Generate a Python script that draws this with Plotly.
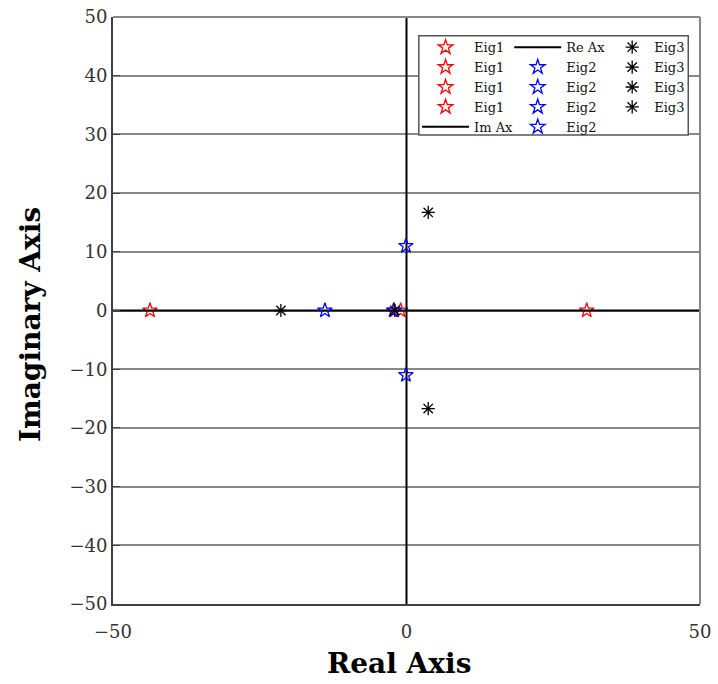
import plotly.graph_objects as go

# Eigenvalues (real, imag)
eig1_re = [-43.7, 30.7, -1.0, -2.2]
eig1_im = [0.0, 0.0, 0.0, 0.0]
eig2_re = [-13.9, -0.1, -0.1, -2.1]
eig2_im = [0.0, 11.0, -11.0, 0.0]
eig3_re = [-21.4, 3.7, 3.7, -2.0]
eig3_im = [0.0, 16.7, -16.7, 0.0]

x_range = [-50, 50]
y_range = [-50, 50]
x_ticks = [-50, 0, 50]
y_ticks = [-50, -40, -30, -20, -10, 0, 10, 20, 30, 40, 50]

FONT = "DejaVu Serif"
fig = go.Figure()

star_size = 11
for xr, yi in zip(eig1_re, eig1_im):
    fig.add_trace(go.Scatter(x=[xr], y=[yi], mode="markers", name="Eig1", legend="legend",
                             marker=dict(symbol="star-open", size=star_size, color="red",
                                         line=dict(width=1.3, color="red"))))
# Im axis (vertical line)
fig.add_trace(go.Scatter(x=[0, 0], y=y_range, mode="lines", name="Im Ax", legend="legend",
                         line=dict(color="black", width=2)))
# Re axis (horizontal line)
fig.add_trace(go.Scatter(x=x_range, y=[0, 0], mode="lines", name="Re Ax", legend="legend2",
                         line=dict(color="black", width=2)))
for xr, yi in zip(eig2_re, eig2_im):
    fig.add_trace(go.Scatter(x=[xr], y=[yi], mode="markers", name="Eig2", legend="legend2",
                             marker=dict(symbol="star-open", size=star_size, color="blue",
                                         line=dict(width=1.3, color="blue"))))
for xr, yi in zip(eig3_re, eig3_im):
    fig.add_trace(go.Scatter(x=[xr], y=[yi], mode="markers", name="Eig3", legend="legend3",
                             marker=dict(symbol="asterisk-open", size=star_size, color="black",
                                         line=dict(width=1.3, color="black"))))

leg_common = dict(yanchor="top", xanchor="left", bgcolor="rgba(0,0,0,0)",
                  borderwidth=0, font=dict(family=FONT, size=13, color="#111"),
                  tracegroupgap=0)
fig.update_layout(
    width=718, height=684,
    margin=dict(l=113, r=18, t=17, b=80, autoexpand=False),
    plot_bgcolor="white", paper_bgcolor="white",
    showlegend=True,
    legend=dict(x=0.518, y=0.974, itemwidth=47, **leg_common),
    legend2=dict(x=0.675, y=0.974, itemwidth=47, **leg_common),
    legend3=dict(x=0.847, y=0.974, itemwidth=34, **leg_common),
    xaxis=dict(range=x_range, tickvals=x_ticks, showgrid=False, zeroline=False, automargin=False,
               showline=True, linecolor="#404040", linewidth=2, ticks="",
               ticklabelstandoff=10,
               tickfont=dict(family=FONT, size=18, color="#333")),
    yaxis=dict(range=y_range, tickvals=y_ticks, showgrid=True, gridcolor="#888", gridwidth=1.5,
               zeroline=False, showline=True, linecolor="#404040", linewidth=2, automargin=False,
               ticks="inside", ticklen=7, tickcolor="#404040", ticklabelstandoff=0,
               tickfont=dict(family=FONT, size=18, color="#333")),
    annotations=[
        dict(text="<b>Real Axis</b>", xref="paper", yref="paper", x=0.487, y=-0.102,
             xanchor="center", yanchor="middle", showarrow=False,
             font=dict(family=FONT, size=28, color="black")),
        dict(text="<b>Imaginary Axis</b>", xref="paper", yref="paper", x=-0.1414, y=0.477,
             xanchor="center", yanchor="middle", showarrow=False, textangle=-90,
             font=dict(family=FONT, size=28, color="black")),
    ],
    shapes=[
        dict(type="line", xref="paper", yref="paper", x0=0, x1=1, y0=1, y1=1,
             line=dict(color="#888", width=2)),
        dict(type="line", xref="paper", yref="paper", x0=1, x1=1, y0=0, y1=1,
             line=dict(color="#888", width=2)),
        dict(type="rect", xref="paper", yref="paper", x0=0.521, x1=0.980, y0=0.799, y1=0.968,
             line=dict(color="#555", width=1.5), fillcolor="white", layer="above"),
    ],
)

fig.write_html("out.html")
